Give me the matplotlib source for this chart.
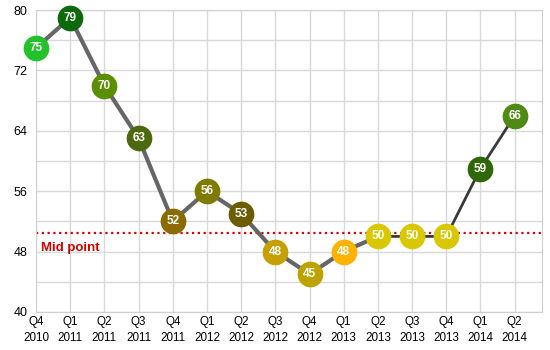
import matplotlib.pyplot as plt
import numpy as np

plt.rcParams['font.family'] = ['Liberation Sans', 'DejaVu Sans']

quarters = ['Q4\n2010', 'Q1\n2011', 'Q2\n2011', 'Q3\n2011', 'Q4\n2011',
            'Q1\n2012', 'Q2\n2012', 'Q3\n2012', 'Q4\n2012',
            'Q1\n2013', 'Q2\n2013', 'Q3\n2013', 'Q4\n2013',
            'Q1\n2014', 'Q2\n2014']
scores = [75, 79, 70, 63, 52, 56, 53, 48, 45, 48, 50, 50, 50, 59, 66]
dot_colors = ['#22c32a', '#0b6b0b', '#5a9000', '#4c6910', '#8c6c00',
              '#7e7b00', '#6c5c00', '#c6a000', '#bda200', '#ffb300',
              '#d9c800', '#d9c800', '#d9c800', '#2e6808', '#4f8b14']
mid_point = 50.5
split = 10  # line style changes from this quarter on

x = np.arange(len(scores))

fig = plt.figure(figsize=(5.5, 3.5), dpi=100)
ax = fig.add_axes([0.0655, 0.109, 0.92, 0.862])

# grid
ax.set_xlim(0, 14.8)
ax.set_ylim(40, 80)
ax.set_yticks(np.arange(40, 81, 8))
ax.set_yticks(np.arange(40, 81, 4), minor=True)
ax.set_xticks(x)
ax.set_xticklabels(quarters, linespacing=1.45)
ax.grid(True, which='both', color='#d9d9d9', linewidth=1)
ax.set_axisbelow(True)
for s in ax.spines.values():
    s.set_color('#d0d0d0')
ax.tick_params(which='both', length=0)
ax.tick_params(axis='y', labelsize=9, pad=6)
ax.tick_params(axis='x', labelsize=8.4, pad=3)

# midpoint reference
ax.axhline(mid_point, color='#e00000', linestyle=(0, (1, 1.6)), linewidth=1.6, zorder=2)
ax.text(0.15, mid_point - 2.0, 'Mid point', color='#d40000', fontsize=9.5,
        fontweight='bold', va='center', ha='left')

# trend line
ax.plot(x[:split + 1], scores[:split + 1], color='#666666', linewidth=3, zorder=3,
        solid_capstyle='round')
ax.plot(x[split:], scores[split:], color='#3a3a3a', linewidth=2, zorder=3)

# value dots
for xi, v, c in zip(x, scores, dot_colors):
    ax.plot(xi, v, 'o', markersize=18.5, color=c, markeredgewidth=0, zorder=4,
            clip_on=False)
    ax.text(xi, v, str(v), color='white', fontsize=8.5, fontweight='bold',
            ha='center', va='center', zorder=5)

fig.savefig('out.png', dpi=100)
